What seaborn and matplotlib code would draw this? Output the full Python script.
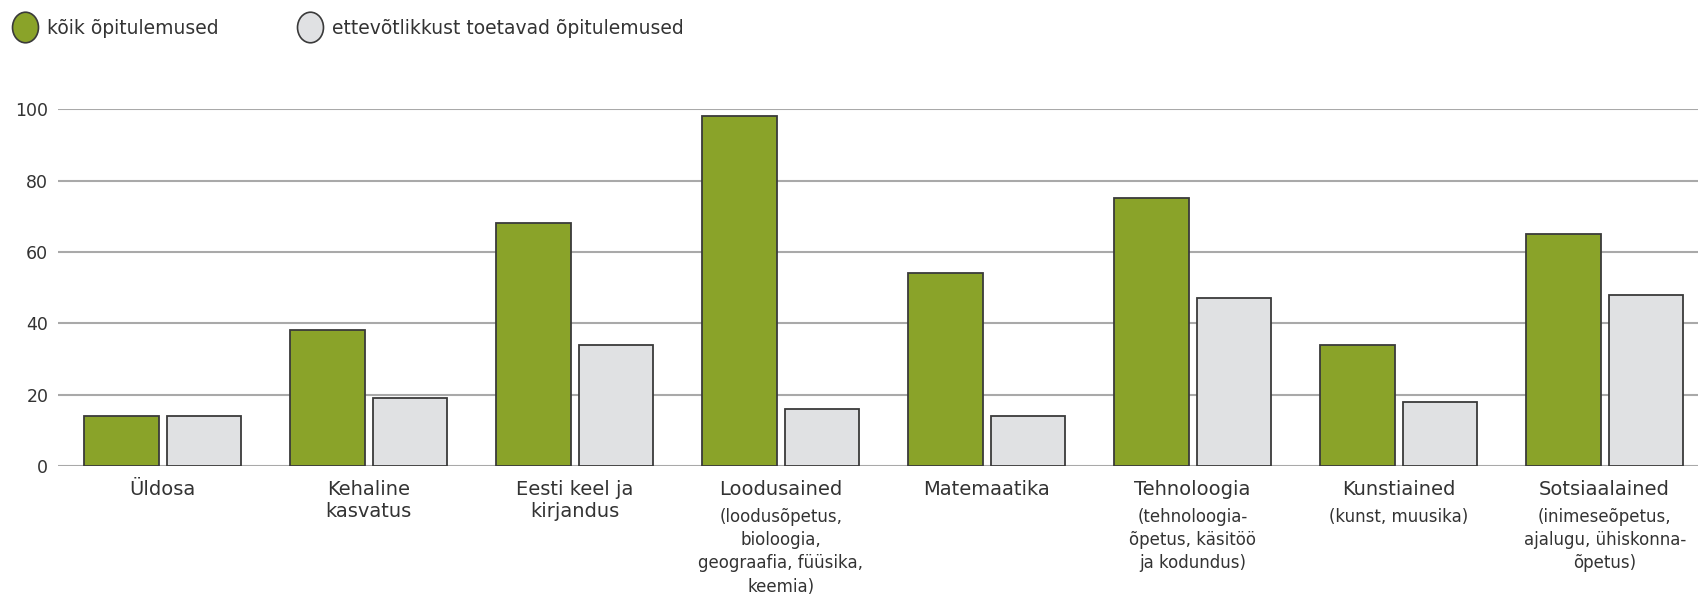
import matplotlib
matplotlib.use("Agg")
import matplotlib.pyplot as plt
import seaborn as sns
import pandas as pd
from matplotlib.lines import Line2D
from matplotlib.path import Path
from matplotlib.transforms import Affine2D

# ---- data ----
categories = ["Üldosa", "Kehaline\nkasvatus", "Eesti keel ja\nkirjandus", "Loodusained",
              "Matemaatika", "Tehnoloogia", "Kunstiained", "Sotsiaalained"]
subtitles = ["", "", "",
             "(loodusõpetus,\nbioloogia,\ngeograafia, füüsika,\nkeemia)",
             "",
             "(tehnoloogia-\nõpetus, käsitöö\nja kodundus)",
             "(kunst, muusika)",
             "(inimeseõpetus,\najalugu, ühiskonna-\nõpetus)"]
series_names = ["kõik õpitulemused", "ettevõtlikkust toetavad õpitulemused"]
all_outcomes = [14, 38, 68, 98, 54, 75, 34, 65]
entrepreneurial = [14, 19, 34, 16, 14, 47, 18, 48]
yticks = [0, 20, 40, 60, 80, 100]

GREEN = "#8aa329"
GREY = "#e0e1e3"
EDGE = "#3a3a3a"
TEXT = "#333333"
GRID = "#a9a9a9"

df = pd.DataFrame({
    "aine": categories * 2,
    "seeria": [series_names[0]] * len(categories) + [series_names[1]] * len(categories),
    "väärtus": all_outcomes + entrepreneurial,
})

sns.set_theme(style="white")
plt.rcParams["font.family"] = ["DejaVu Sans"]

fig = plt.figure(figsize=(16.99, 5.96), dpi=100)
ax = fig.add_axes([58 / 1699, 1 - 466 / 596, 1 - 58 / 1699, (466 - 109.3) / 596])

sns.barplot(data=df, x="aine", y="väärtus", hue="seeria", order=categories,
            hue_order=series_names, palette=[GREEN, GREY], width=0.8, gap=0.1,
            edgecolor=EDGE, linewidth=1.3, saturation=1, legend=False, ax=ax, zorder=3)

ax.set_ylim(0, 100)
ax.set_xlim(-0.508, 7.458)
ax.set_yticks(yticks)
ax.yaxis.grid(True, color=GRID, linewidth=1.5, zorder=0)
ax.set_axisbelow(True)
for s in ax.spines.values():
    s.set_visible(False)
ax.set_xlabel("")
ax.set_ylabel("")
ax.tick_params(axis="y", length=0, pad=7, labelsize=12.5, labelcolor=TEXT)
ax.tick_params(axis="x", length=0, pad=10, labelsize=14, labelcolor=TEXT)
ax.set_xticks(range(len(categories)))
ax.set_xticklabels(categories, linespacing=1.2)

for i, sub in enumerate(subtitles):
    if sub:
        ax.annotate(sub, xy=(i, 0), xycoords=("data", "axes fraction"),
                    xytext=(0, -30), textcoords="offset points",
                    ha="center", va="top", fontsize=12, color=TEXT, linespacing=1.38)

# legend with oval markers
oval = Path.unit_circle().transformed(Affine2D().scale(0.85, 1.0))
handles = [Line2D([], [], linestyle="none", marker=oval, markersize=22,
                  markerfacecolor=c, markeredgecolor=EDGE, markeredgewidth=1.2)
           for c in (GREEN, GREY)]
fig.legend(handles, series_names, loc="center left",
           bbox_to_anchor=(12 / 1699, 1 - 28 / 596), ncol=2, frameon=False,
           fontsize=13.5, labelcolor=TEXT, handlelength=1.4, handletextpad=0.45,
           columnspacing=4.2, borderpad=0, borderaxespad=0)

fig.savefig("out.png", dpi=100)
